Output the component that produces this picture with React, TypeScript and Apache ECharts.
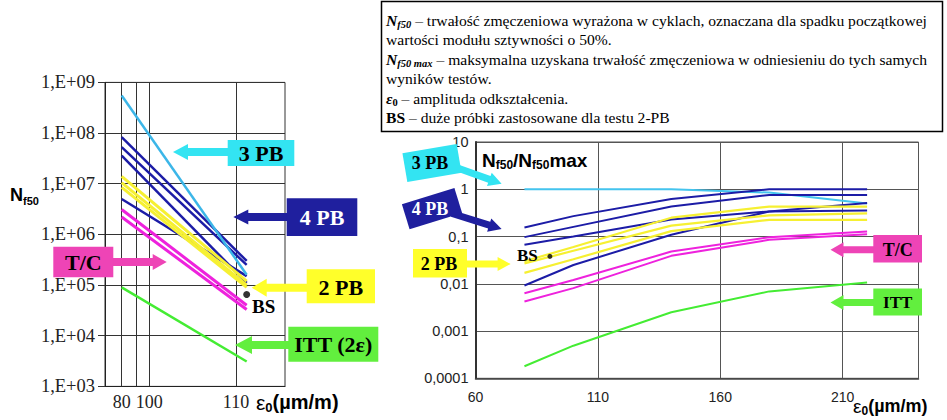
import React, { useEffect, useRef } from "react";
import * as echarts from "echarts";

// ---------- DATA ----------
// Left chart (Nf50 vs strain amplitude); the original x axis is distorted, so
// the axis works in "display units" where 80 -> first line, 110 -> last line.
const leftEps = [80, 112.8];
const leftGridPos = [80, 83.94, 87.24, 110];
const leftTickLabels = ["80", "", "100", "110"];
const leftYLabels = ["1,E+03", "1,E+04", "1,E+05", "1,E+06", "1,E+07", "1,E+08", "1,E+09"];
const left3PB = [5.5e8, 1.6e5];
const left4PB = [
  [8.3e7, 3.0e5],
  [5.3e7, 2.5e5],
  [3.6e7, 1.1e5],
  [5.0e6, 1.5e5],
];
const left2PB = [
  [1.4e7, 1.2e5],
  [1.05e7, 1.0e5],
  [8.5e6, 9.0e4],
];
const leftTC = [
  [3.1e6, 4.0e4],
  [2.2e6, 3.3e4],
];
const leftITT = [9.0e4, 3.1e3];
const leftBS = [112.8, 6.5e4];

// Right chart (Nf50/Nf50max vs strain amplitude)
const rightEps = [80, 100, 140, 180, 220];
const rightXTicks = [60, 110, 160, 210];
const rightYLabels = ["0,0001", "0,001", "0,01", "0,1", "1", "10"];
const right3PB = [1, 1, 1, 0.85, 0.5];
const right4PB = [
  [0.155, 0.27, 0.62, 1.0, 1.0],
  [0.097, 0.16, 0.43, 0.76, 0.76],
  [0.067, 0.1, 0.23, 0.34, 0.355],
  [0.0092, 0.025, 0.109, 0.34, 0.51],
];
const right2PB = [
  [0.03, 0.06, 0.25, 0.43, 0.43],
  [0.027, 0.05, 0.17, 0.28, 0.31],
  [0.017, 0.033, 0.13, 0.225, 0.225],
];
const rightTC = [
  [0.0063, 0.012, 0.048, 0.097, 0.128],
  [0.0042, 0.0081, 0.039, 0.085, 0.112],
];
const rightITT = [0.00018, 0.00049, 0.0025, 0.0069, 0.0107];
const rightBS = [90.4, 0.038];

const descLines = [
  "{n|N}{ns|f50} – trwałość zmęczeniowa wyrażona w cyklach, oznaczana dla spadku początkowej",
  "wartości modułu sztywności o 50%.",
  "{n|N}{ns|f50 max} – maksymalna uzyskana trwałość zmęczeniowa w odniesieniu do tych samych",
  "wyników testów.",
  "{n|ε}{bs|0} – amplituda odkształcenia.",
  "{b|BS} – duże próbki zastosowane dla testu 2-PB",
];

// ---------- STYLE ----------
const SERIF = "Liberation Serif";
const SANS = "Liberation Sans";
const C_CYAN_L = "#3cb6e8";
const C_CYAN_R = "#44c4ee";
const C_CYAN_BOX = "#33e4f2";
const C_BLUE = "#1c1ca6";
const C_BLUE_BOX = "#1f1f9e";
const C_YEL = "#f6f032";
const C_YEL_BOX = "#ffff2a";
const C_MAG = "#ee22dd";
const C_MAG_BOX = "#ee44b6";
const C_GRN = "#44ec33";
const C_GRN_BOX = "#62ef3e";

function arrowPts(tx: number, ty: number, fx: number, fy: number, hl: number, hw: number, sw: number) {
  const dx = tx - fx, dy = ty - fy;
  const L = Math.hypot(dx, dy);
  const ux = dx / L, uy = dy / L;
  const nx = -uy, ny = ux;
  const bx = tx - ux * hl, by = ty - uy * hl;
  return [
    [fx + nx * sw, fy + ny * sw],
    [bx + nx * sw, by + ny * sw],
    [bx + nx * hw, by + ny * hw],
    [tx, ty],
    [bx - nx * hw, by - ny * hw],
    [bx - nx * sw, by - ny * sw],
    [fx - nx * sw, fy - ny * sw],
  ];
}

function arrow(tx: number, ty: number, fx: number, fy: number, hl: number, hw: number, sw: number, fill: string) {
  return { type: "polygon", shape: { points: arrowPts(tx, ty, fx, fy, hl, hw, sw) }, style: { fill }, z: 20, silent: true };
}

function rectBox(x: number, y: number, w: number, h: number, fill: string) {
  return { type: "rect", shape: { x, y, width: w, height: h }, style: { fill }, z: 21, silent: true };
}

function label(x: number, y: number, text: string, fill: string, size: number) {
  return {
    type: "text",
    x,
    y,
    z: 22,
    silent: true,
    style: { text, fill, fontFamily: SERIF, fontWeight: "bold", fontSize: size, textAlign: "center", textVerticalAlign: "middle" },
  };
}

function rotBox(cx: number, cy: number, w: number, h: number, rot: number, fill: string) {
  return {
    type: "rect",
    x: cx,
    y: cy,
    rotation: rot,
    shape: { x: -w / 2, y: -h / 2, width: w, height: h },
    style: { fill },
    z: 21,
    silent: true,
  };
}

export default function App() {
  const ref = useRef<HTMLDivElement>(null);

  useEffect(() => {
    if (!ref.current) return;
    const chart = echarts.init(ref.current, undefined, { renderer: "svg" });

    const mkLine = (xs: number[], ys: number[], color: string, width: number, idx: number, z = 2) => ({
      type: "line",
      xAxisIndex: idx,
      yAxisIndex: idx,
      data: xs.map((x, i) => [x, ys[i]]),
      symbol: "none",
      silent: true,
      z,
      lineStyle: { color, width },
    });

    const series: any[] = [];
    // left chart
    series.push({
      ...mkLine(leftEps, leftITT, C_GRN, 2.5, 0),
      markLine: {
        silent: true,
        symbol: "none",
        label: { show: false },
        lineStyle: { color: "#333", width: 1, type: "solid" },
        data: leftGridPos.map((v) => ({ xAxis: v })),
        z: 1,
      },
    });
    leftTC.forEach((d) => series.push(mkLine(leftEps, d, C_MAG, 3, 0)));
    left4PB.forEach((d) => series.push(mkLine(leftEps, d, C_BLUE, 2.5, 0)));
    left2PB.forEach((d) => series.push(mkLine(leftEps, d, C_YEL, 3, 0)));
    series.push(mkLine(leftEps, left3PB, C_CYAN_L, 2.5, 0));
    series.push({
      type: "scatter",
      xAxisIndex: 0,
      yAxisIndex: 0,
      data: [leftBS],
      symbolSize: 7,
      itemStyle: { color: "#000" },
      silent: true,
      z: 5,
    });
    // right chart
    series.push(mkLine(rightEps, right3PB, C_CYAN_R, 2, 1));
    right4PB.forEach((d) => series.push(mkLine(rightEps, d, C_BLUE, 2, 1)));
    right2PB.forEach((d) => series.push(mkLine(rightEps, d, C_YEL, 2.2, 1)));
    rightTC.forEach((d) => series.push(mkLine(rightEps, d, C_MAG, 2, 1)));
    series.push(mkLine(rightEps, rightITT, C_GRN, 2, 1));
    series.push({
      type: "scatter",
      xAxisIndex: 1,
      yAxisIndex: 1,
      data: [rightBS],
      symbolSize: 5,
      itemStyle: { color: "#000" },
      silent: true,
      z: 5,
    });

    const FS = 15.6;
    const descRich = {
      n: { fontFamily: SERIF, fontSize: FS, fontWeight: "bold", fontStyle: "italic", lineHeight: 19 },
      ns: { fontFamily: SERIF, fontSize: 10.5, fontWeight: "bold", fontStyle: "italic", lineHeight: 11, verticalAlign: "bottom" },
      bs: { fontFamily: SERIF, fontSize: 10.5, fontWeight: "bold", lineHeight: 11, verticalAlign: "bottom" },
      b: { fontFamily: SERIF, fontSize: FS, fontWeight: "bold", lineHeight: 19 },
    };

    const graphics: any[] = [
      // description box
      {
        type: "rect",
        shape: { x: 381.5, y: 1.5, width: 561, height: 130 },
        style: { fill: "#fff", stroke: "#000", lineWidth: 1.5 },
        z: 10,
        silent: true,
      },
      ...descLines.map((t, i) => ({
        type: "text",
        x: 386,
        y: 20 + i * 19.5,
        z: 11,
        silent: true,
        style: {
          text: t,
          fontFamily: SERIF,
          fontSize: FS,
          lineHeight: 19,
          fill: "#000",
          textVerticalAlign: "middle",
          rich: descRich,
        },
      })),
      // left axis titles
      {
        type: "text",
        x: 10,
        y: 195,
        z: 11,
        silent: true,
        style: {
          text: "{n|N}{s|f50}",
          fill: "#000",
          textVerticalAlign: "middle",
          rich: {
            n: { fontFamily: SANS, fontSize: 18, fontWeight: "bold", lineHeight: 22 },
            s: { fontFamily: SANS, fontSize: 11, fontWeight: "bold", lineHeight: 11, verticalAlign: "bottom" },
          },
        },
      },
      {
        type: "text",
        x: 256,
        y: 402,
        z: 11,
        silent: true,
        style: {
          text: "{e|ε}{s|0}{t|(µm/m)}",
          fill: "#000",
          textVerticalAlign: "middle",
          rich: {
            e: { fontFamily: SANS, fontSize: 21, lineHeight: 24 },
            s: { fontFamily: SANS, fontSize: 13, fontWeight: "bold", lineHeight: 12, verticalAlign: "bottom" },
            t: { fontFamily: SANS, fontSize: 20, fontWeight: "bold", lineHeight: 24 },
          },
        },
      },
      // left labels
      arrow(173, 152, 230, 152, 15, 8, 4, C_CYAN_BOX),
      rectBox(227.7, 140, 66.6, 26, C_CYAN_BOX),
      label(261, 153, "3 PB", "#000", 22),
      arrow(233.3, 217, 290, 217, 15, 7.5, 4, C_BLUE_BOX),
      rectBox(286.7, 198.3, 70.6, 37.7, C_BLUE_BOX),
      label(322, 217.5, "4 PB", "#fff", 22),
      arrow(166.7, 262, 110, 262, 14, 8, 4, C_MAG_BOX),
      rectBox(53.3, 246.7, 60, 30.6, C_MAG_BOX),
      label(83.3, 262, "T/C", "#000", 22),
      arrow(251.7, 287.7, 310, 287.7, 15, 9, 4, C_YEL_BOX),
      rectBox(306.7, 269.3, 68.3, 34, C_YEL_BOX),
      label(340.8, 287, "2 PB", "#000", 22),
      arrow(235, 345, 292, 345, 17, 9, 4, C_GRN_BOX),
      rectBox(288.3, 326.7, 90, 35, C_GRN_BOX),
      label(333.3, 344.5, "ITT (2ε)", "#000", 22),
      {
        type: "text",
        x: 252,
        y: 306,
        z: 22,
        silent: true,
        style: { text: "BS", fill: "#000", fontFamily: SERIF, fontWeight: "bold", fontSize: 19, textVerticalAlign: "middle" },
      },
      // right titles
      {
        type: "text",
        x: 482,
        y: 160,
        z: 11,
        silent: true,
        style: {
          text: "{n|N}{s|f50}{n|/N}{s|f50}{n|max}",
          fill: "#000",
          textVerticalAlign: "middle",
          rich: {
            n: { fontFamily: SANS, fontSize: 19, fontWeight: "bold", lineHeight: 22 },
            s: { fontFamily: SANS, fontSize: 12, fontWeight: "bold", lineHeight: 12, verticalAlign: "bottom" },
          },
        },
      },
      {
        type: "text",
        x: 853,
        y: 406,
        z: 11,
        silent: true,
        style: {
          text: "{e|ε}{s|0}{t|(µm/m)}",
          fill: "#000",
          textVerticalAlign: "middle",
          rich: {
            e: { fontFamily: SANS, fontSize: 19, lineHeight: 22 },
            s: { fontFamily: SANS, fontSize: 12, fontWeight: "bold", lineHeight: 12, verticalAlign: "bottom" },
            t: { fontFamily: SANS, fontSize: 18, fontWeight: "bold", lineHeight: 22 },
          },
        },
      },
      // right labels
      arrow(501.6, 183.8, 452, 166, 13, 7, 3.5, C_CYAN_BOX),
      rotBox(432, 163, 55, 29, 0.17, C_CYAN_BOX),
      label(430, 162.5, "3 PB", "#000", 18),
      arrow(501.6, 229, 452, 213.5, 13, 7, 3.5, C_BLUE_BOX),
      rotBox(432, 208.6, 55, 26, 0.3, C_BLUE_BOX),
      label(430, 209, "4 PB", "#fff", 18),
      arrow(510.6, 264, 462, 264, 13, 7, 3.5, C_YEL_BOX),
      rectBox(413, 249, 54, 28.5, C_YEL_BOX),
      label(439, 264, "2 PB", "#000", 18),
      arrow(830.5, 249.8, 878, 249.8, 13, 7.5, 3.5, C_MAG_BOX),
      rectBox(873.3, 235, 48.7, 27.5, C_MAG_BOX),
      label(897.7, 249.5, "T/C", "#000", 18),
      arrow(830.5, 302.6, 878, 302.6, 13, 7.5, 3.5, C_GRN_BOX),
      rectBox(873.3, 288.6, 48.7, 26.8, C_GRN_BOX),
      label(897.7, 302.5, "ITT", "#000", 17),
      {
        type: "text",
        x: 517,
        y: 255,
        z: 22,
        silent: true,
        style: { text: "BS", fill: "#000", fontFamily: SERIF, fontWeight: "bold", fontSize: 17, textVerticalAlign: "middle" },
      },
    ];

    const option: any = {
      animation: false,
      backgroundColor: "#fff",
      textStyle: { fontFamily: SERIF },
      grid: [
        { left: 105, top: 82.4, width: 180, height: 304, show: true, borderColor: "#333", borderWidth: 1 },
        { left: 475.5, top: 142, width: 443, height: 236.3, show: true, borderColor: "#555", borderWidth: 1 },
      ],
      xAxis: [
        {
          gridIndex: 0,
          type: "value",
          min: 75.62,
          max: 122.86,
          splitLine: { show: false },
          axisTick: { show: false },
          axisLine: { lineStyle: { color: "#222", width: 1 } },
          axisLabel: {
            customValues: [80, 87.24, 110],
            margin: 7,
            color: "#222",
            fontFamily: "Liberation Serif, serif",
            fontSize: 18,
            formatter: (v: number) => {
              const i = leftGridPos.findIndex((p) => Math.abs(p - v) < 0.01);
              return i >= 0 ? leftTickLabels[i] : "";
            },
          },
        },
        {
          gridIndex: 1,
          type: "value",
          min: 60,
          max: 241,
          interval: 50,
          splitLine: { show: true, lineStyle: { color: "#555", width: 1 } },
          axisTick: { show: false },
          axisLine: { lineStyle: { color: "#444", width: 1.5 } },
          axisLabel: {
            margin: 12,
            color: "#222",
            fontFamily: SANS,
            fontSize: 14,
            formatter: (v: number) => (rightXTicks.includes(v) ? String(v) : ""),
          },
        },
      ],
      yAxis: [
        {
          gridIndex: 0,
          type: "log",
          logBase: 10,
          min: 1e3,
          max: 1e9,
          splitNumber: 6,
          splitLine: { show: true, lineStyle: { color: "#333", width: 1 } },
          axisTick: { show: true, length: 7, lineStyle: { color: "#333" } },
          axisLine: { show: true, lineStyle: { color: "#222", width: 1 } },
          axisLabel: {
            margin: 10,
            color: "#222",
            fontFamily: "Liberation Serif, serif",
            fontSize: 18.5,
            formatter: (v: number) => leftYLabels[Math.round(Math.log10(v)) - 3] ?? "",
          },
        },
        {
          gridIndex: 1,
          type: "log",
          logBase: 10,
          min: 1e-4,
          max: 10,
          splitNumber: 5,
          splitLine: { show: true, lineStyle: { color: "#555", width: 1 } },
          axisTick: { show: false },
          axisLine: { show: true, lineStyle: { color: "#333", width: 2 } },
          axisLabel: {
            margin: 7,
            color: "#222",
            fontFamily: SANS,
            fontSize: 14.5,
            formatter: (v: number) => rightYLabels[Math.round(Math.log10(v)) + 4] ?? "",
          },
        },
      ],
      series,
      graphic: { elements: graphics },
    };

    chart.setOption(option);
    return () => chart.dispose();
  }, []);

  return (
    <div
      ref={ref}
      style={{ position: "fixed", left: 0, top: 0, width: 947, height: 420, background: "#fff" }}
    />
  );
}
